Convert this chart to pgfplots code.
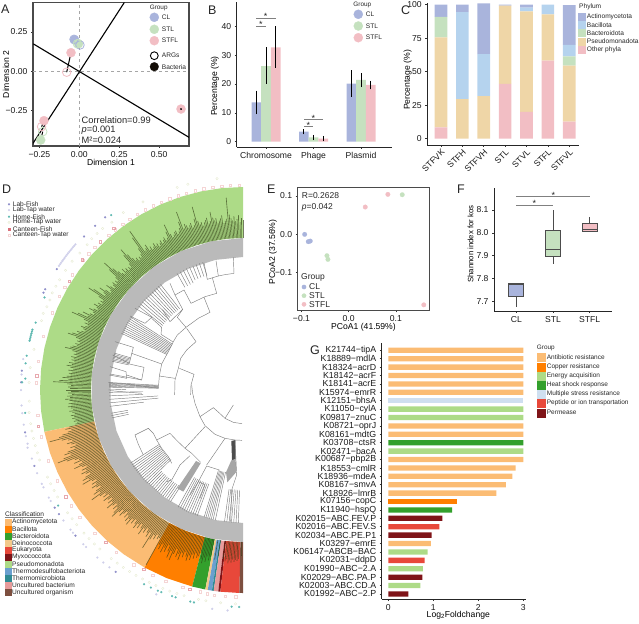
\documentclass[border=0pt]{standalone}
\usepackage{fontspec}
\setmainfont{Liberation Sans}
\usepackage{pgfplots}
\pgfplotsset{compat=1.18}
\usepgfplotslibrary{statistics}
\definecolor{cl}{HTML}{A9B4DC}
\definecolor{stl}{HTML}{C5E1BF}
\definecolor{stfl}{HTML}{F2BEC4}
\definecolor{frm}{HTML}{4A4A4A}
\definecolor{bac}{HTML}{B5D3EE}
\definecolor{tan}{HTML}{EFD6A7}
\definecolor{ar}{HTML}{FBBC74}
\definecolor{cop}{HTML}{FF7F00}
\definecolor{ene}{HTML}{ADDB87}
\definecolor{heat}{HTML}{33A02C}
\definecolor{mul}{HTML}{CFDFF0}
\definecolor{pep}{HTML}{E8483A}
\definecolor{per}{HTML}{7F1418}
\definecolor{dei}{HTML}{F3C98B}
\definecolor{thd}{HTML}{6A9FCF}
\definecolor{thm}{HTML}{2F8A93}
\definecolor{unb}{HTML}{E89B9B}
\definecolor{uno}{HTML}{7D4F3F}
\definecolor{lbf}{HTML}{8C8CC8}
\definecolor{lbt}{HTML}{CFCFEA}
\definecolor{hmf}{HTML}{5DB8B0}
\definecolor{hmt}{HTML}{E6EBD2}
\definecolor{cnf}{HTML}{D9707A}
\definecolor{cnt}{HTML}{F5D5D5}
\definecolor{tip}{HTML}{2E3A12}
\newcommand\fs[1]{\fontsize{#1}{#1}\selectfont}
\newcommand\tx[4][]{\node[anchor=west,inner sep=0pt,text=black!85,#1] at (axis cs:#2,#3) {#4};}
\def\PX{243+\thisrowno{1}*cos(\thisrowno{0})}
\def\PY{390-\thisrowno{1}*sin(\thisrowno{0})}
\pgfplotsset{
  panel/.style={scale only axis,anchor=south west,enlargelimits=false,tick align=outside,
    major tick length=2pt,tick pos=left,tick style={color=black!80,line width=.5pt},
    tick label style={font=\fs{8.6},text=black!90},label style={font=\fs{8.6}},
    xtick align=outside,ytick align=outside,axis line style={color=black!85,line width=.8pt}},
  boxed/.style={axis line style={color=frm,line width=1.2pt}},
  open/.style={axis lines*=left,axis line style={-}},
  xlab/.style n args={2}{xlabel style={at={(axis description cs:#1,#2)},anchor=center}},
  ylab/.style n args={2}{ylabel style={at={(axis description cs:#1,#2)},anchor=center}},
  sw/.style={only marks,mark=square*,mark size=3.6pt,mark options={draw=#1,fill=#1,line width=.2pt}},
  dot/.style={only marks,mark=*,mark options={draw=#1,fill=#1,line width=.2pt}},
  sig/.style={color=black!50,line width=.7pt},
  tree/.style={color=black!50,line width=.45pt},
  blob/.style={fill=#1,draw=none},
  ebar/.style={error bars/y dir=both,error bars/y explicit,
    error bars/error mark options={black,mark size=1.6pt,line width=.8pt},
    error bars/error bar style={black,line width=1pt}},
}
\newcommand\br[1]{\addplot[tree] coordinates {#1};}
\begin{document}
\begin{tikzpicture}
\path[use as bounding box] (0pt,0pt) rectangle (639pt,623pt);

% free text, legends and the circular tree, in picture pixels
\begin{axis}[hide axis,scale only axis,anchor=south west,at={(0pt,0pt)},width=639pt,height=623pt,
  xmin=0,xmax=639,ymin=0,ymax=623,y dir=reverse,clip=false]
% coloured sectors (angle, radius)
\addplot[blob=ene] table[x expr=\PX,y expr=\PY,row sep=\\]{90 203\\96 203\\102 203\\108 203\\114 203\\120 203\\126 203\\132 203\\138 203\\144 203\\150 203\\156 203\\162 203\\168 203\\174 203\\180 203\\186 203\\191.9 203\\191.9 152\\186 152\\180 152\\174 152\\168 152\\162 152\\156 152\\150 152\\144 152\\138 152\\132 152\\126 152\\120 152\\114 152\\108 152\\102 152\\96 152\\90 152\\};
\addplot[blob=ar] table[x expr=\PX,y expr=\PY,row sep=\\]{191.9 203\\198 203\\204 203\\210 203\\216 203\\222 203\\228 203\\234 203\\241 203\\241 152\\234 152\\228 152\\222 152\\216 152\\210 152\\204 152\\198 152\\191.9 152\\};
\addplot[blob=cop] table[x expr=\PX,y expr=\PY,row sep=\\]{241 203\\248 203\\255.5 203\\255.5 152\\248 152\\241 152\\};
\addplot[blob=heat] table[x expr=\PX,y expr=\PY,row sep=\\]{255.5 203\\259.3 203\\259.3 152\\255.5 152\\};
\addplot[blob=dei] table[x expr=\PX,y expr=\PY,row sep=\\]{259.3 203\\260 203\\260 152\\259.3 152\\};
\addplot[blob=thd] table[x expr=\PX,y expr=\PY,row sep=\\]{260 203\\261.2 203\\261.2 152\\260 152\\};
\addplot[blob=thm] table[x expr=\PX,y expr=\PY,row sep=\\]{261.2 203\\261.7 203\\261.7 152\\261.2 152\\};
\addplot[blob=unb] table[x expr=\PX,y expr=\PY,row sep=\\]{261.7 203\\263 203\\263 152\\261.7 152\\};
\addplot[blob=per] table[x expr=\PX,y expr=\PY,row sep=\\]{263 203\\263.6 203\\263.6 152\\263 152\\};
\addplot[blob=pep] table[x expr=\PX,y expr=\PY,row sep=\\]{263.6 203\\269 203\\269 152\\263.6 152\\};
\addplot[blob=uno] table[x expr=\PX,y expr=\PY,row sep=\\]{269 203\\270 203\\270 152\\269 152\\};
% gray ring of tree tips
\addplot[blob=black!27] table[x expr=\PX,y expr=\PY,row sep=\\]{90 152\\102 152\\114 152\\126 152\\138 152\\150 152\\162 152\\174 152\\186 152\\198 152\\210 152\\222 152\\234 152\\246 152\\258 152\\270 152\\270 133\\258 133\\246 133\\234 133\\222 133\\210 133\\198 133\\186 133\\174 133\\162 133\\150 133\\138 133\\126 133\\114 133\\102 133\\90 133\\};
% bars on the tips (angle, radius of the tip)
\addplot[color=tip,opacity=.65,line width=.62pt,
  quiver={u={(\thisrowno{1}-152)*cos(\thisrowno{0})},v={-(\thisrowno{1}-152)*sin(\thisrowno{0})}}]
  table[x expr={243+152*cos(\thisrowno{0})},y expr={390-152*sin(\thisrowno{0})},row sep=\\]{
90 170\\90.5 172\\91 168\\91.5 175\\92 171\\92.5 169\\93 174\\93.5 170\\94 172\\94.5 176\\
95 193\\95.5 172\\96 170\\96.5 168\\97 176\\97.5 173\\98 171\\98.5 169\\99 174\\99.5 172\\
100 175\\100.5 181\\101 172\\101.5 170\\102 176\\102.5 174\\103 172\\103.5 169\\104 173\\104.5 171\\
105 175\\105.5 190\\106 178\\106.5 172\\107 170\\107.5 175\\108 173\\108.5 171\\109 174\\109.5 176\\
110 172\\110.5 190\\111 180\\111.5 174\\112 171\\112.5 169\\113 173\\113.5 172\\114 170\\114.5 168\\
115 172\\115.5 183\\116 176\\116.5 170\\117 168\\117.5 172\\118 170\\118.5 167\\119 171\\119.5 169\\
120 166\\120.5 170\\121 168\\121.5 172\\122 169\\122.5 167\\123 171\\123.5 168\\124 175\\124.5 172\\
125 170\\125.5 195\\126 188\\126.5 176\\127 170\\127.5 167\\128 169\\128.5 166\\129 170\\129.5 168\\
130 172\\130.5 178\\131 186\\131.5 180\\132 170\\132.5 166\\133 168\\133.5 165\\134 169\\134.5 167\\
135 171\\135.5 166\\136 168\\136.5 172\\137 178\\137.5 188\\138 180\\138.5 170\\139 166\\139.5 168\\
140 165\\140.5 169\\141 167\\141.5 164\\142 168\\142.5 172\\143 166\\143.5 164\\144 170\\144.5 176\\
145 170\\145.5 167\\146 180\\146.5 185\\147 172\\147.5 166\\148 168\\148.5 165\\149 169\\149.5 167\\
150 172\\150.5 168\\151 166\\151.5 170\\152 174\\152.5 169\\153 167\\153.5 171\\154 178\\154.5 172\\
155 182\\155.5 188\\156 174\\156.5 169\\157 172\\157.5 168\\158 170\\158.5 174\\159 171\\159.5 169\\
160 172\\160.5 176\\161 174\\161.5 180\\162 184\\162.5 175\\163 171\\163.5 173\\164 170\\164.5 174\\
165 172\\165.5 176\\166 178\\166.5 183\\167 175\\167.5 171\\168 173\\168.5 170\\169 175\\169.5 172\\
170 174\\170.5 171\\171 176\\171.5 173\\172 178\\172.5 174\\173 171\\173.5 176\\174 172\\174.5 175\\
175 173\\175.5 177\\176 181\\176.5 175\\177 184\\177.5 190\\178 176\\178.5 172\\179 175\\179.5 173\\
180 177\\180.5 172\\181 175\\181.5 171\\182 176\\182.5 173\\183 178\\183.5 174\\184 171\\184.5 175\\
185 172\\185.5 176\\186 173\\186.5 171\\187 175\\187.5 172\\188 170\\188.5 174\\189 171\\189.5 173\\
190 170\\190.5 172\\191 169\\191.5 171\\
192 178\\192.5 182\\193 176\\193.5 180\\194 186\\194.5 190\\195 200\\195.5 188\\196 182\\196.5 178\\
197 184\\197.5 180\\198 176\\198.5 182\\199 178\\199.5 186\\200 190\\200.5 184\\201 192\\201.5 199\\
202 190\\202.5 182\\203 178\\203.5 184\\204 176\\204.5 180\\205 186\\205.5 178\\206 174\\206.5 180\\
207 176\\207.5 182\\208 178\\208.5 174\\209 180\\209.5 184\\210 178\\210.5 186\\211 176\\211.5 172\\
212 178\\212.5 174\\213 180\\213.5 176\\214 172\\214.5 178\\215 182\\215.5 176\\216 187\\216.5 178\\
217 172\\217.5 176\\218 170\\218.5 178\\219 174\\219.5 170\\220 176\\220.5 172\\221 180\\221.5 174\\
222 170\\222.5 176\\223 172\\223.5 178\\224 182\\224.5 174\\225 170\\225.5 176\\226 172\\226.5 168\\
227 174\\227.5 170\\228 176\\228.5 172\\229 178\\229.5 170\\230 174\\230.5 168\\231 172\\231.5 176\\
232 170\\232.5 174\\233 168\\233.5 172\\234 178\\234.5 170\\235 174\\235.5 168\\236 172\\236.5 176\\
237 170\\237.5 187\\238 176\\238.5 170\\239 174\\239.5 168\\240 172\\240.5 170\\241 200\\
241.5 176\\242 180\\242.5 174\\243 182\\243.5 176\\244 180\\244.5 172\\245 178\\245.5 184\\246 176\\
246.5 185\\247 178\\247.5 172\\248 180\\248.5 176\\249 182\\249.5 174\\250 178\\250.5 172\\251 176\\
251.5 180\\252 174\\252.5 178\\253 172\\253.5 176\\254 170\\254.5 174\\255 172\\255.5 168\\
256 174\\256.5 178\\257 172\\257.5 176\\258 170\\258.5 174\\259 170\\260.5 172\\261.5 168\\263.3 170\\
264 172\\264.5 170\\265 174\\265.5 171\\266 173\\266.5 170\\267 172\\267.5 170\\268 171\\268.5 169\\269.5 166\\};
% leaves of the tree (angle, inner radius, outer radius)
\addplot[tree,quiver={u={(\thisrowno{2}-\thisrowno{1})*cos(\thisrowno{0})},v={-(\thisrowno{2}-\thisrowno{1})*sin(\thisrowno{0})}}]
  table[x expr={243+\thisrowno{1}*cos(\thisrowno{0})},y expr={390-\thisrowno{1}*sin(\thisrowno{0})},row sep=\\]{
107.5 120 134\\109 120 134\\110.5 120 134\\112 120 134\\113.5 120 134\\115 118 134\\116.5 118 134\\118 118 134\\119.5 118 134\\
128 103 134\\129.2 103 134\\130.4 103 134\\131.6 103 134\\132.8 103 134\\134 103 134\\135.2 103 134\\136.4 103 134\\137.6 103 134\\138.8 103 134\\140 103 134\\141.2 103 134\\
147 84 134\\147.9 84 134\\148.8 84 134\\149.7 84 134\\150.6 84 134\\151.5 84 134\\152.4 84 134\\153.3 84 134\\154.2 84 134\\155 84 134\\
164 117 134\\164.6 117 134\\165.2 117 134\\165.8 117 134\\166.4 117 134\\167 117 134\\167.6 117 134\\
176.8 85 134\\177.2 85 134\\177.6 85 134\\178 85 134\\178.4 85 134\\178.8 85 134\\
181 100 134\\182.5 100 134\\184 85 134\\185.5 85 134\\187 100 134\\190 117 134\\191 117 134\\192 117 134\\
213 100 134\\214 100 134\\215 100 134\\216 100 134\\217 100 134\\218 100 134\\219 100 134\\220 100 134\\221 100 134\\222 100 134\\223 100 134\\224 100 134\\
225 115 133\\226 115 133\\227 115 133\\228 115 133\\229 115 133\\230 115 133\\231 115 133\\232 115 133\\233 115 133\\234 115 133\\235 115 133\\236 115 133\\237 115 133\\
241 100 134\\242 100 134\\243 100 134\\244 100 134\\245 100 134\\246 100 134\\247 100 134\\248 100 134\\249 100 134\\250 100 134\\
253 84 133\\253.8 84 133\\254.6 84 133\\255.4 84 133\\256.2 84 133\\257 84 133\\258 84 133\\
262 100 133\\263 100 133\\264 100 133\\265 100 133\\266 100 133\\267 100 133\\268 100 133\\};
% outer rings of marks
\addplot[only marks,mark=square,mark size=1.2pt,mark options={color=cnt,line width=.4pt}]
  table[x expr=\PX,y expr=\PY,row sep=\\]{
91 205\\93.5 205\\96 205\\98.5 205\\101 205\\103.5 205\\106 205\\108.5 205\\111 205\\113.5 205\\116 205\\118.5 205\\121 205\\123.5 205\\126 205\\128.5 205\\131 205\\136 206\\138.5 206\\141 206\\146 206\\150 206\\153 206\\158 206\\165 207\\172 207\\178 207\\187 207\\193 207\\200 207\\206 207\\214 207\\218 207\\224 206\\232 206\\238 206\\244 206\\248 206\\253 206\\258 206\\260 207\\262 207\\265 207\\268 207\\};
\addplot[only marks,mark=square,mark size=1.2pt,mark options={color=cnf,line width=.4pt,opacity=.6}]
  table[x expr=\PX,y expr=\PY,row sep=\\]{128.7 207\\134 206\\141 207\\148 205\\176 207\\190 208\\211 207\\228 205\\241 205\\255 206\\};
\addplot[only marks,mark=o,mark size=1.2pt,mark options={color=hmt,line width=.4pt}]
  table[x expr=\PX,y expr=\PY,row sep=\\]{97 213\\105 213\\108 213\\118 213\\124 214\\128 213\\131 214\\133 214\\135 214\\137 213\\140 213\\143 214\\146 214\\149 214\\151 214\\153 214\\155 213\\157 213\\159 214\\161 213\\169 213\\174 214\\178 214\\183 214\\186 215\\189 215\\191 215\\193 215\\195 215\\197 215\\199 215\\204 214\\206 214\\208 214\\210 214\\215 214\\217 214\\219 214\\222 214\\224 214\\226 214\\228 214\\232 214\\234 214\\236 214\\238 214\\240 214\\242 214\\244 214\\246 214\\248 214\\250 214\\252 214\\254 214\\258 214\\260 214\\264 214\\268 214\\};
\addplot[dot=lbt,mark size=1pt]
  table[x expr=\PX,y expr=\PY,row sep=\\]{139 222\\139.5 222\\140 222\\140.5 222\\141 222\\141.5 222\\142 222\\142.5 222\\143 222\\143.5 222\\144 222\\144.5 222\\145 222\\145.5 222\\146 222\\172 222\\176 222\\180 222\\184 222\\186 222\\189 222\\192 222\\194 222\\195 223\\198 222\\202 222\\205 222\\206 222\\209 222\\210 222\\216 222\\219 222\\220 222\\224 222\\225 222\\229 222\\231 222\\233 222\\247 222\\262 221\\266 221\\};
\addplot[dot=lbf,mark size=1pt]
  table[x expr=\PX,y expr=\PY,row sep=\\]{128.6 221\\132 221\\136 221\\147 222\\153 222\\154 222\\175 222\\178 222\\191 222\\200 222\\212 222\\214 222\\221 222\\235 222\\};
\addplot[dot=hmf,mark size=1pt]
  table[x expr=\PX,y expr=\PY,row sep=\\]{127 219\\155 219\\162 218\\164 219\\164.5 219\\165 219\\165.5 219\\166 219\\166.5 219\\167 219\\171 219\\173 219\\177 218\\178 221\\186 219\\212 218\\243 218\\245 218\\247 218\\248 218\\251 218\\252 218\\256 218\\257 218\\267 217\\269 217\\};
% free text
\tx[font=\fs{12.5}]{1}{9}{A}
\tx[font=\fs{12.5}]{208}{10}{B}
\tx[font=\fs{12.5}]{401}{10}{C}
\tx[font=\fs{12.5}]{2}{189}{D}
\tx[font=\fs{12.5}]{267}{189}{E}
\tx[font=\fs{12.5}]{457}{189}{F}
\tx[font=\fs{12.5}]{310}{350}{G}
% legend A
\tx[font=\fs{6.4},anchor=center]{158.7}{7.7}{Group}
\addplot[dot=cl,mark size=4.6pt] coordinates {(154.3,17.3)};
\addplot[dot=stl,mark size=4.6pt] coordinates {(154.3,29.3)};
\addplot[dot=stfl,mark size=4.6pt] coordinates {(154.3,40.7)};
\addplot[only marks,mark=*,mark size=3.9pt,mark options={draw=black,fill=white,line width=.9pt}] coordinates {(154.3,55.7)};
\addplot[dot=black!90!brown,mark size=4.4pt] coordinates {(154.3,66.7)};
\tx[font=\fs{6.6}]{161.7}{17.3}{CL}
\tx[font=\fs{6.6}]{161.7}{29.3}{STL}
\tx[font=\fs{6.6}]{161.7}{40.7}{STFL}
\tx[font=\fs{6.6}]{161.7}{55.7}{ARGs}
\tx[font=\fs{6.6}]{161.7}{66.7}{Bacteria}
% legend B
\tx[font=\fs{6.4},anchor=center]{362.3}{5}{Group}
\addplot[dot=cl,mark size=4.6pt] coordinates {(358.3,14.3)};
\addplot[dot=stl,mark size=4.6pt] coordinates {(358.3,26)};
\addplot[dot=stfl,mark size=4.6pt] coordinates {(358.3,37.7)};
\tx[font=\fs{6.6}]{365.7}{14.3}{CL}
\tx[font=\fs{6.6}]{365.7}{26}{STL}
\tx[font=\fs{6.6}]{365.7}{37.7}{STFL}
% significance bars of B
\addplot[sig] coordinates {(256,26)(266,26)};
\addplot[sig] coordinates {(256,18)(275.7,18)};
\addplot[sig] coordinates {(304.3,126.3)(313,126.3)};
\addplot[sig] coordinates {(304.3,119.3)(322.7,119.3)};
\tx[font=\fs{9}]{259}{24.5}{*}
\tx[font=\fs{9}]{263.7}{16.5}{*}
\tx[font=\fs{9}]{306.3}{125}{*}
\tx[font=\fs{9}]{311.3}{118}{*}
% legend C
\tx[font=\fs{6.6}]{579}{6.7}{Phylum}
\addplot[sw=cl] coordinates {(581.7,16.3)};
\addplot[sw=bac] coordinates {(581.7,25)};
\addplot[sw=stl] coordinates {(581.7,33)};
\addplot[sw=tan] coordinates {(581.7,41.3)};
\addplot[sw=stfl] coordinates {(581.7,49.3)};
\tx[font=\fs{6.6}]{586.7}{16.3}{Actinomycetota}
\tx[font=\fs{6.6}]{586.7}{25}{Bacillota}
\tx[font=\fs{6.6}]{586.7}{33}{Bacteroidota}
\tx[font=\fs{6.6}]{586.7}{41.3}{Pseudomonadota}
\tx[font=\fs{6.6}]{586.7}{49.3}{Other phyla}
% legend D, samples
\addplot[dot=lbf,mark size=1pt] coordinates {(9,204.3)};
\addplot[dot=lbt,mark size=1pt] coordinates {(9,210)};
\addplot[dot=hmf,mark size=1pt] coordinates {(9,216.7)};
\addplot[only marks,mark=o,mark size=1.2pt,mark options={color=hmt,line width=.4pt}] coordinates {(9,222.3)};
\addplot[sw=cnf,mark size=1.2pt] coordinates {(9,229)};
\addplot[only marks,mark=square,mark size=1.2pt,mark options={color=cnt,line width=.4pt}] coordinates {(9,235)};
\tx[font=\fs{6.6}]{12.7}{204.3}{Lab-Fish}
\tx[font=\fs{6.6}]{12.7}{210}{Lab-Tap water}
\tx[font=\fs{6.6}]{12.7}{216.7}{Home-Fish}
\tx[font=\fs{6.6}]{12.7}{222.3}{Home-Tap water}
\tx[font=\fs{6.6}]{12.7}{229}{Canteen-Fish}
\tx[font=\fs{6.6}]{12.7}{235}{Canteen-Tap water}
% legend D, classification
\tx[font=\fs{6.6}]{5}{514.5}{Classification}
\addplot[color=black!50,line width=.4pt] coordinates {(5,517.6)(43,517.6)};
\addplot[sw=ar,mark size=2.9pt] coordinates {(8,521.7)};
\addplot[sw=cop,mark size=2.9pt] coordinates {(8,528.7)};
\addplot[sw=heat,mark size=2.9pt] coordinates {(8,535.7)};
\addplot[sw=dei,mark size=2.9pt] coordinates {(8,542.7)};
\addplot[sw=pep,mark size=2.9pt] coordinates {(8,550)};
\addplot[sw=per,mark size=2.9pt] coordinates {(8,557)};
\addplot[sw=ene,mark size=2.9pt] coordinates {(8,564)};
\addplot[sw=thd,mark size=2.9pt] coordinates {(8,571)};
\addplot[sw=thm,mark size=2.9pt] coordinates {(8,578.3)};
\addplot[sw=unb,mark size=2.9pt] coordinates {(8,585.3)};
\addplot[sw=uno,mark size=2.9pt] coordinates {(8,592.3)};
\tx[font=\fs{6.6}]{12}{521.7}{Actinomycetota}
\tx[font=\fs{6.6}]{12}{528.7}{Bacillota}
\tx[font=\fs{6.6}]{12}{535.7}{Bacteroidota}
\tx[font=\fs{6.6}]{12}{542.7}{Deinococcota}
\tx[font=\fs{6.6}]{12}{550}{Eukaryota}
\tx[font=\fs{6.6}]{12}{557}{Myxococcota}
\tx[font=\fs{6.6}]{12}{564}{Pseudomonadota}
\tx[font=\fs{6.6}]{12}{571}{Thermodesulfobacteriota}
\tx[font=\fs{6.6}]{12}{578.3}{Thermomicrobiota}
\tx[font=\fs{6.6}]{12}{585.3}{Uncultured bacterium}
\tx[font=\fs{6.6}]{12}{592.3}{Uncultured organism}
% legend E and its statistics
\tx[font=\fs{8.5}]{301.7}{195.7}{R=0.2628}
\tx[font=\fs{8.5}]{301.7}{207}{\textit{p}=0.042}
\tx[font=\fs{8.5}]{301}{277}{Group}
\addplot[dot=cl,mark size=2.2pt] coordinates {(304,287)};
\addplot[dot=stl,mark size=2.2pt] coordinates {(304,295.7)};
\addplot[dot=stfl,mark size=2.2pt] coordinates {(304,304.3)};
\tx[font=\fs{8.5}]{309}{287}{CL}
\tx[font=\fs{8.5}]{309}{295.7}{STL}
\tx[font=\fs{8.5}]{309}{304.3}{STFL}
% significance bars of F
\addplot[sig] coordinates {(516.3,205)(553.3,205)};
\addplot[sig] coordinates {(516.3,196.7)(590,196.7)};
\tx[font=\fs{9}]{532.3}{203}{*}
\tx[font=\fs{9}]{551.3}{195}{*}
% legend G
\tx[font=\fs{6.4}]{536.7}{348.3}{Group}
\addplot[sw=ar,mark size=4pt] coordinates {(540.8,357.3)};
\addplot[sw=cop,mark size=4pt] coordinates {(540.8,366.7)};
\addplot[sw=ene,mark size=4pt] coordinates {(540.8,376)};
\addplot[sw=heat,mark size=4pt] coordinates {(540.8,385)};
\addplot[sw=mul,mark size=4pt] coordinates {(540.8,394.3)};
\addplot[sw=pep,mark size=4pt] coordinates {(540.8,403.3)};
\addplot[sw=per,mark size=4pt] coordinates {(540.8,412.7)};
\tx[font=\fs{6.5}]{546.7}{357.3}{Antibiotic resistance}
\tx[font=\fs{6.5}]{546.7}{366.7}{Copper resistance}
\tx[font=\fs{6.5}]{546.7}{376}{Energy acquisition}
\tx[font=\fs{6.5}]{546.7}{385}{Heat shock response}
\tx[font=\fs{6.5}]{546.7}{394.3}{Multiple stress resistance}
\tx[font=\fs{6.5}]{546.7}{403.3}{Peptide or ion transportation}
\tx[font=\fs{6.5}]{546.7}{412.7}{Permease}
\end{axis}

% tree branches, upper half
\begin{axis}[hide axis,scale only axis,anchor=north west,at={(90pt,383pt)},width=155pt,height=155pt,
  xmin=0,xmax=465,ymin=0,ymax=465,y dir=reverse,clip=false]
\br{(430,52)(432,100)(405,104)(385,108)(378,62)}
\br{(342,68)(352,118)(385,108)}
\br{(367,113)(380,160)(345,170)(303,190)(282,150)}
\br{(282,150)(255,165)(278,208)(240,245)}
\br{(255,165)(240,130)}
\br{(218,210)(240,245)}
\br{(342,172)(360,217)(325,235)(288,262)(262,232)(278,208)}
\br{(290,265)(318,305)(290,330)(272,355)(265,385)(255,420)(254,465)}
\br{(268,385)(312,403)(303,435)(302,465)}
\br{(288,262)(262,285)(250,305)(235,335)(215,372)(208,408)(205,445)}
\br{(248,305)(213,283)(215,262)(185,235)}
\br{(135,205)(185,232)(165,250)(120,228)}
\br{(125,340)(215,372)}
\br{(75,305)(130,322)(118,370)(68,345)}
\br{(118,372)(162,382)(155,420)(60,402)}
\br{(208,408)(255,415)}
\br{(205,445)(110,432)(55,428)}
\br{(155,420)(110,405)}
\br{(60,380)(108,395)(110,415)(58,405)}
\br{(55,450)(108,448)}
\br{(155,460)(60,452)}
\end{axis}

% tree branches, lower half
\begin{axis}[hide axis,scale only axis,anchor=north west,at={(90pt,238pt)},width=155pt,height=155pt,
  xmin=0,xmax=465,ymin=0,ymax=465,y dir=reverse,clip=false]
\addplot[blob=black!70] coordinates {(424,168)(436,165)(437,222)(426,226)};
\addplot[blob=black!35] coordinates {(424,226)(437,222)(438,262)(412,292)(408,262)};
\addplot[blob=black!35] coordinates {(318,228)(332,235)(280,320)(262,310)};
\br{(305,0)(308,25)(315,55)(330,95)}
\br{(330,95)(370,68)(388,84)(405,100)(430,112)(456,116)}
\br{(405,100)(430,60)}
\br{(330,95)(345,122)(375,148)(405,160)(435,165)(456,166)}
\br{(345,125)(285,190)}
\br{(285,190)(262,168)(240,145)(200,165)(190,145)(175,130)(135,150)(145,178)(160,210)}
\br{(200,165)(215,190)(235,215)(245,235)}
\br{(285,190)(305,205)(332,232)}
\br{(300,212)(270,240)(245,285)(230,290)}
\br{(405,160)(350,240)}
\br{(388,255)(350,243)(325,290)(300,330)}
\br{(325,290)(345,300)(330,340)}
\br{(435,165)(440,270)(425,315)(422,410)}
\end{axis}

% A
\begin{axis}[panel,boxed,at={(33pt,477pt)},width=156pt,height=143.5pt,
  xmin=-0.29,xmax=0.687,ymin=-0.475,ymax=0.437,
  xtick={-0.25,0,0.25,0.5},xticklabels={−0.25,0.00,0.25,0.50},
  ytick={-0.25,0,0.25},yticklabels={−0.25,0.00,0.25},
  xlabel={Dimension 1},ylabel={Dimension 2},
  xlab={0.5}{-0.118},ylab={-0.173}{0.5}]
\addplot[color=black!35,dashed,line width=.8pt] coordinates {(0,-0.475)(0,0.437)};
\addplot[color=black!35,dashed,line width=.8pt] coordinates {(-0.29,0)(0.687,0)};
\addplot[black,line width=1.1pt] coordinates {(-0.29,-0.458)(0.282,0.437)};
\addplot[black,line width=1.1pt] coordinates {(-0.288,0.174)(0.687,-0.42)};
\addplot[dot=cl,mark size=4.6pt] coordinates {(-0.03,0.2)};
\addplot[dot=stl,mark size=4.6pt] coordinates {(-0.005,0.175)(-0.242,-0.437)};
\addplot[dot=stfl,mark size=4.6pt] coordinates {(-0.052,0.118)(-0.221,-0.314)(0.637,-0.24)};
\addplot[only marks,mark=o,mark size=4.3pt,mark options={color=cl,line width=.8pt}] coordinates {(-0.033,0.203)(0.004,0.167)};
\addplot[only marks,mark=o,mark size=4.3pt,mark options={color=stl,line width=.8pt}] coordinates {(-0.229,-0.384)(-0.012,0.175)};
\addplot[only marks,mark=o,mark size=4.3pt,mark options={color=stfl,line width=.8pt}] coordinates {(-0.079,-0.006)(-0.236,-0.352)};
\addplot[black,line width=1pt] coordinates {(-0.052,0.118)(-0.079,-0.006)};
\addplot[black,line width=1pt] coordinates {(-0.221,-0.314)(-0.236,-0.352)};
\addplot[black,line width=1pt] coordinates {(-0.229,-0.384)(-0.242,-0.437)};
\addplot[black,line width=1.2pt] coordinates {(-0.03,0.2)(-0.012,0.165)};
\addplot[black,line width=1.2pt] coordinates {(-0.02,0.19)(-0.005,0.172)};
\addplot[only marks,mark=*,mark size=.7pt,black] coordinates {(0.637,-0.24)};
\node[anchor=west,inner sep=0pt,font=\fs{9.3},text=black!85] at (rel axis cs:0.311,0.181) {Correlation=0.99};
\node[anchor=west,inner sep=0pt,font=\fs{9.3},text=black!85] at (rel axis cs:0.311,0.111) {\textit{p}=0.001};
\node[anchor=west,inner sep=0pt,font=\fs{9.3},text=black!85] at (rel axis cs:0.311,0.042) {M²=0.024};
\end{axis}

% B
\begin{axis}[panel,open,at={(236.7pt,476pt)},width=155pt,height=145pt,
  xmin=-0.617,xmax=2.646,ymin=-1.84,ymax=48.4,
  xtick={0,1,2},xticklabels={Chromosome,Phage,Plasmid},
  ytick={0,10,20,30,40},yticklabels={0,10,20,30,40},
  ylabel={Percentage (\%)},ylab={-0.14}{0.42},
  every axis plot/.append style={ybar,bar shift=0pt,bar width=9.67pt,draw=none,ebar}]
\addplot[fill=cl] table[row sep=\\,y error plus index=2,y error minus index=3]{-0.2035 13.6 3.5 3.54\\0.7965 3.47 0.33 0.37\\1.7965 20.1 4.1 3.9\\};
\addplot[fill=stl] table[row sep=\\,y error plus index=2,y error minus index=3]{0 26.2 5.9 5.6\\1 1.5 0.3 0.3\\2 21.4 1.7 1.9\\};
\addplot[fill=stfl] table[row sep=\\,y error plus index=2,y error minus index=3]{0.2035 32.7 6.7 6.6\\1.2035 1.05 0.4 0.4\\2.2035 19.65 0.85 0.95\\};
\end{axis}

% C
\begin{axis}[panel,open,at={(427.3pt,478pt)},width=152pt,height=142pt,
  xmin=-0.64,xmax=6.47,ymin=-4.7,ymax=101.3,
  ybar stacked,bar width=12.7pt,
  xtick={0,...,6},xticklabels={STFVK,STFH,STFVH,STL,STVL,STFL,STFVL},
  xticklabel style={rotate=45,anchor=north east,inner sep=1pt},
  ytick={0,25,50,75,100},yticklabels={0,25,50,75,100},
  ylabel={Percentage (\%)},ylab={-0.13}{0.458}]
\addplot[fill=stfl,draw=none] coordinates {(0,8.5)(1,0)(2,0)(3,41)(4,20.1)(5,58.2)(6,12.7)};
\addplot[fill=tan,draw=none] coordinates {(0,67.1)(1,29.6)(2,31.8)(3,58.3)(4,74.9)(5,34.6)(6,41.8)};
\addplot[fill=stl,draw=none] coordinates {(0,15.4)(1,0)(2,0)(3,0)(4,0)(5,0)(6,6.9)};
\addplot[fill=bac,draw=none] coordinates {(0,0)(1,64.9)(2,31.4)(3,0)(4,2.8)(5,7.2)(6,8.7)};
\addplot[fill=cl,draw=none] coordinates {(0,9)(1,5.5)(2,37.8)(3,0.7)(4,2.2)(5,0)(6,29.7)};
\end{axis}

% E
\begin{axis}[panel,boxed,at={(297.7pt,312.7pt)},width=131.6pt,height=122.6pt,
  xmin=-0.108,xmax=0.171,ymin=-0.198,ymax=0.1217,
  xtick={-0.1,0,0.1},xticklabels={−0.1,0.0,0.1},
  ytick={-0.1,0,0.1},yticklabels={−0.1,0.0,0.1},
  xlabel={PCoA1 (41.59\%)},ylabel={PCoA2 (37.56\%)},
  xlab={0.5}{-0.139},ylab={-0.188}{0.477}]
\addplot[dot=cl,mark size=2.3pt] coordinates {(-0.0932,0)(-0.0856,-0.019)(-0.0814,-0.0175)};
\addplot[dot=stl,mark size=2.3pt] coordinates {(0.1136,0.1034)(-0.046,-0.0556)(-0.0439,-0.0653)};
\addplot[dot=stfl,mark size=2.3pt] coordinates {(0.0832,0.1043)(0.0352,0.0713)(0.1593,-0.1838)};
\end{axis}

% F
\begin{axis}[panel,open,at={(494pt,312pt)},width=118.3pt,height=123.3pt,
  xmin=-0.608,xmax=2.616,ymin=7.6575,ymax=8.1977,
  boxplot/draw direction=y,
  xtick={0,1,2},xticklabels={CL,STL,STFL},
  ytick={7.7,7.8,7.9,8.0,8.1},yticklabels={7.7,7.8,7.9,8.0,8.1},
  ylabel={Shannon index for kos},ylabel style={font=\fs{7.8}},ylab={-0.197}{0.543},
  every axis plot/.append style={draw=black!70,line width=.9pt}]
\addplot[fill=cl,boxplot prepared={draw position=0,lower whisker=7.674,lower quartile=7.723,median=7.775,upper quartile=7.776,upper whisker=7.779,box extend=0.41,whisker extend=0}] coordinates {};
\addplot[fill=stl,boxplot prepared={draw position=1,lower whisker=7.864,lower quartile=7.896,median=7.925,upper quartile=8.01,upper whisker=8.098,box extend=0.41,whisker extend=0}] coordinates {};
\addplot[fill=stfl,boxplot prepared={draw position=2,lower whisker=8.008,lower quartile=8.008,median=8.013,upper quartile=8.039,upper whisker=8.071,box extend=0.41,whisker extend=0}] coordinates {};
\end{axis}

% G
\begin{axis}[panel,open,at={(381.7pt,24pt)},width=144pt,height=256pt,
  xmin=-0.147,xmax=3.053,ymin=-0.87,ymax=29.6,y dir=reverse,
  xtick={0,1,2,3},xticklabels={0,1,2,3},
  ytick={0,...,29},
  yticklabels={K21744−tipA,K18889−mdlA,K18324−acrD,K18142−acrF,K18141−acrE,K15974−emrR,K12151−bhsA,K11050−cylA,K09817−znuC,K08721−oprJ,K08161−mdtG,K03708−ctsR,K02471−bacA,K00687−pbp2B,K18553−cmlR,K18936−mdeA,K08167−smvA,K18926−lmrB,K07156−copC,K11940−hspQ,K02015−ABC.FEV.P,K02016−ABC.FEV.S,K02034−ABC.PE.P1,K03297−emrE,K06147−ABCB−BAC,K02031−ddpD,K01990−ABC−2.A,K02029−ABC.PA.P,K02003−ABC.CD.A,K01992−ABC−2.P},
  yticklabel style={font=\fs{8.8}},
  xlabel={Log\textsubscript{2}Foldchange},xlab={0.532}{-0.0625},
  every axis plot/.append style={xbar,bar shift=0pt,bar width=5.3pt,draw=none}]
\addplot[fill=ar] coordinates {(3,0)(3,1)(3,2)(3,3)(3,4)(3,5)(3,9)(3,10)(3,13)(2.83,14)(2.755,15)(2.615,16)(2.4,17)(0.948,23)};
\addplot[fill=mul] coordinates {(3,6)};
\addplot[fill=ene] coordinates {(3,7)(3,8)(3,12)(0.874,24)(0.77,26)(0.711,28)};
\addplot[fill=heat] coordinates {(3,11)(1.42,19)};
\addplot[fill=cop] coordinates {(1.52,18)};
\addplot[fill=pep] coordinates {(1.133,21)(0.807,25)};
\addplot[fill=per] coordinates {(1.2,20)(0.963,22)(0.756,27)(0.444,29)};
\end{axis}
\end{tikzpicture}
\end{document}
